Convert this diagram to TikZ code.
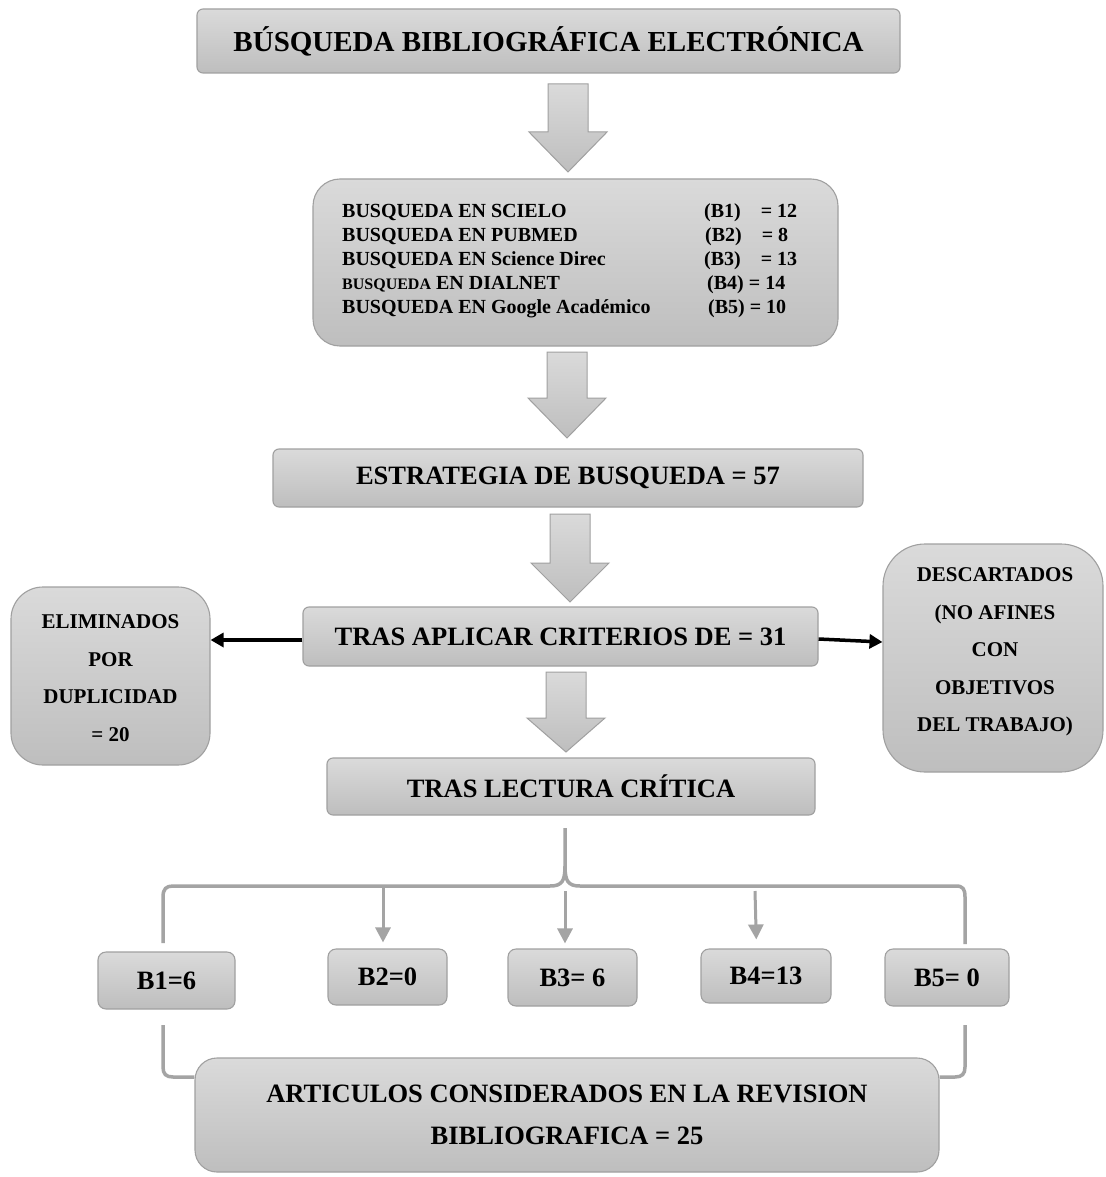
\documentclass[tikz,border=0pt]{standalone}
\usepackage{fontspec}
\setmainfont{Liberation Serif}
\usetikzlibrary{calc,arrows.meta}
\definecolor{boxtop}{RGB}{218,218,218}
\definecolor{boxbot}{RGB}{190,190,190}
\definecolor{boxline}{RGB}{160,160,160}
\definecolor{bracecol}{RGB}{164,164,164}
\newcommand\blockarr[3]{%
  \path[barrow] let \p1=(#1), \p2=(#2) in
    (\x1-20pt,\y1) -- (\x1+20pt,\y1) -- (\x1+20pt,\y2+#3) -- (\x1+39pt,\y2+#3)
    -- (\x2,\y2) -- (\x1-39pt,\y2+#3) -- (\x1-20pt,\y2+#3) -- cycle;}
\begin{document}
\begin{tikzpicture}[x=1pt,y=-1pt,
  gbox/.style={draw=boxline, line width=1.1pt, top color=boxtop, bottom color=boxbot,
    rounded corners=#1, inner sep=0pt, align=center,
    font=\bfseries\fontsize{26.5}{30}\selectfont},
  gbox/.default=6pt,
  sidetext/.style={font=\bfseries\fontsize{21}{37.6}\selectfont},
  barrow/.style={draw=boxline, line width=1pt, top color=boxtop, bottom color=boxbot},
  bracket/.style={draw=bracecol, line width=3.5pt},
  sarrow/.style={draw=bracecol, line width=3pt, -{Triangle[length=15pt,width=15pt]}},
  blk/.style={draw=black, line width=3.5pt, -{Triangle[length=13pt,width=14pt]}}]
\useasboundingbox (0,0) rectangle (1105,1177);
\fill[white] (0,0) rectangle (1105,1177);

% main boxes
\node[gbox=6pt, minimum width=703pt, minimum height=64pt,
  font=\bfseries\fontsize{29}{32}\selectfont] (title) at (548.5,41)
  {BÚSQUEDA BIBLIOGRÁFICA ELECTRÓNICA};
\node[gbox=27pt, minimum width=525pt, minimum height=167pt] (box2) at (575.5,262.5) {};
\node[anchor=west, inner sep=0pt, align=left,
  font=\bfseries\fontsize{20}{24}\selectfont] (box2txt) at (342,261)
  {\makebox[362pt][l]{BUSQUEDA EN SCIELO}(B1)\quad= 12\\
   \makebox[363pt][l]{BUSQUEDA EN PUBMED}(B2)\quad= 8\\
   \makebox[362pt][l]{BUSQUEDA EN Science Direc}(B3)\quad= 13\\
   \makebox[365pt][l]{{\fontsize{16}{24}\selectfont BUSQUEDA} EN DIALNET}(B4) = 14\\
   \makebox[366pt][l]{BUSQUEDA EN Google Académico}(B5) = 10};
\node[gbox=6pt, minimum width=590pt, minimum height=58pt] (box3) at (568,478)
  {ESTRATEGIA DE BUSQUEDA = 57};
\node[gbox=6pt, minimum width=515pt, minimum height=59pt] (box4) at (560.5,636.5)
  {TRAS APLICAR CRITERIOS DE = 31};
\node[gbox=6pt, minimum width=488pt, minimum height=57pt] (box5) at (571,786.5)
  {TRAS LECTURA CRÍTICA};

% side boxes
\node[gbox=32pt, minimum width=199pt, minimum height=178pt] (lbox) at (110.5,676) {};
\node[sidetext, align=center, inner sep=0pt] (ltxt) at (110.5,678)
  {ELIMINADOS\\POR\\DUPLICIDAD\\= 20};
\node[gbox=42pt, minimum width=220pt, minimum height=228pt] (rbox) at (993,658) {};
\node[sidetext, align=center, inner sep=0pt] (rtxt) at (995,652)
  {DESCARTADOS\\(NO AFINES\\CON\\OBJETIVOS\\DEL TRABAJO)};

% B boxes
\node[gbox=8pt, minimum width=137pt, minimum height=57pt] (B1) at (166.5,980.5) {B1=6};
\node[gbox=8pt, minimum width=119pt, minimum height=56pt] (B2) at (387.5,977) {B2=0};
\node[gbox=8pt, minimum width=129pt, minimum height=57pt] (B3) at (572.5,977.5) {B3= 6};
\node[gbox=8pt, minimum width=130pt, minimum height=54pt] (B4) at (766,976) {B4=13};
\node[gbox=8pt, minimum width=124pt, minimum height=57pt] (B5) at (947,977.5) {B5= 0};

% final box
\node[gbox=22pt, minimum width=744pt, minimum height=114pt,
  font=\bfseries\fontsize{26.5}{42}\selectfont] (final) at (567,1115)
  {ARTICULOS CONSIDERADOS EN LA REVISION\\BIBLIOGRAFICA = 25};

% block arrows
\coordinate (a1t) at (568,84);  \coordinate (a1h) at (568,172);
\coordinate (a2t) at (567,352); \coordinate (a2h) at (567,438);
\coordinate (a3t) at (570,514); \coordinate (a3h) at (570,602);
\coordinate (a4t) at (566,672); \coordinate (a4h) at (566,752);
\blockarr{a1t}{a1h}{40pt}
\blockarr{a2t}{a2h}{40pt}
\blockarr{a3t}{a3h}{39pt}
\blockarr{a4t}{a4h}{34pt}

% black arrows
\coordinate (lfrom) at ($(box4.west)+(0,3.5)$);
\draw[blk] (lfrom) -- (lbox.east |- lfrom);
\draw[blk] ($(box4.east)+(0,2.5)$) -- ($(rbox.west)+(0,-16)$);

% brace
\coordinate (stem) at (565,828);
\draw[bracket, line join=round] (stem) -- (565,866)
  .. controls (565,881) and (562,886) .. (550,886) -- (173,886)
  .. controls (166,886) and (163,889) .. (163,897) -- (163,943);
\draw[bracket, line join=round] (565,866)
  .. controls (565,881) and (568,886) .. (580,886) -- (956,886)
  .. controls (963,886) and (965,889) .. (965,897) -- (965,944);

% small arrows to B boxes
\coordinate (bx2) at (383,886);
\coordinate (bx3) at (565,891);
\coordinate (bx4) at (755,891);
\draw[sarrow, shorten >=6pt] (bx2) -- (bx2 |- B2.north);
\draw[sarrow, shorten >=5pt] (bx3) -- (bx3 |- B3.north);
\draw[sarrow, shorten >=9pt] (bx4) -- ($(bx4 |- B4.north)+(1.5,0)$);

% lower brackets
\coordinate (lb) at (163,1025);
\coordinate (rb) at (965,1025);
\draw[bracket] (lb) -- (163,1067) .. controls (163,1074) and (166,1077) .. (173,1077)
  -- (final.west |- 0,1077);
\draw[bracket] (rb) -- (965,1067) .. controls (965,1074) and (962,1077) .. (955,1077)
  -- (final.east |- 0,1077);
\end{tikzpicture}
\end{document}
